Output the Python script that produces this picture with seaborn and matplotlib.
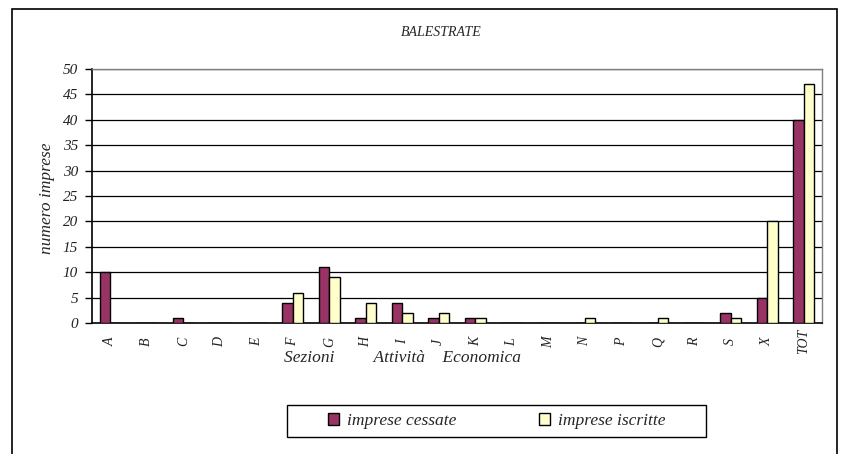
import matplotlib
matplotlib.use("Agg")
import matplotlib.pyplot as plt
import seaborn as sns
import pandas as pd
import numpy as np
from matplotlib.patches import Rectangle

categories = ["A", "B", "C", "D", "E", "F", "G", "H", "I", "J", "K", "L", "M", "N", "P", "Q", "R", "S", "X", "TOT"]
cessate = [10, 0, 1, 0, 0, 4, 11, 1, 4, 1, 1, 0, 0, 0, 0, 0, 0, 2, 5, 40]
iscritte = [0, 0, 0, 0, 0, 6, 9, 4, 2, 2, 1, 0, 0, 1, 0, 1, 0, 1, 20, 47]
series_names = ["imprese cessate", "imprese iscritte"]
yticks = [0, 5, 10, 15, 20, 25, 30, 35, 40, 45, 50]

sns.set_theme(style="white")
plt.rcParams['font.family'] = ['Liberation Serif', 'DejaVu Serif']

df = pd.DataFrame({
    "cat": categories * 2,
    "val": cessate + iscritte,
    "serie": [series_names[0]] * len(categories) + [series_names[1]] * len(categories),
})

W, H = 841, 454
fig = plt.figure(figsize=(8.41, 4.54), dpi=100)
ax = fig.add_axes([92/W, 1-323/H, (822-92)/W, (323-69)/H])

sns.barplot(data=df, x="cat", y="val", hue="serie", order=categories,
            hue_order=series_names, palette=["#993366", "#FFFFCC"],
            width=0.58, edgecolor="black", linewidth=1.0, saturation=1,
            ax=ax, legend=True, zorder=3)

ax.set_ylim(0, 50)
ax.set_xlim(-0.5, len(categories) - 0.5)
ax.set_yticks(yticks)
ax.set_yticklabels([str(v) for v in yticks], fontstyle="italic", fontsize=11, color="#222222")
for y in yticks[1:]:
    ax.axhline(y, color="black", linewidth=0.9, zorder=1)

ax.set_xticks(range(len(categories)))
ax.set_xticklabels(categories, rotation=90, fontstyle="italic", fontsize=10,
                   color="#222222", va="center", ha="center")
ax.set_xticks(np.arange(-0.5, len(categories) + 0.5, 1), minor=True)
ax.tick_params(axis="x", which="major", length=0, pad=13.5)
ax.tick_params(axis="x", which="minor", length=5, width=1, color="black", direction="out")
ax.tick_params(axis="y", which="major", length=5, width=1, color="black", direction="out", left=True, pad=5)

for side in ["left", "bottom"]:
    ax.spines[side].set_color("black")
    ax.spines[side].set_linewidth(1.2)
for side in ["top", "right"]:
    ax.spines[side].set_visible(True)
    ax.spines[side].set_color("#808080")
    ax.spines[side].set_linewidth(1.0)

ax.set_ylabel("numero imprese", fontstyle="italic", fontsize=12.5, va="center", ha="center")
ax.yaxis.set_label_coords((47-92)/730, 0.49)
ax.set_xlabel("Sezioni         Attività    Economica", fontstyle="italic", fontsize=12.5,
              va="center", ha="center")
ax.xaxis.set_label_coords((402.5-92)/730, (323-358)/254)

fig.text(441/W, 1-33/H, "BALESTRATE", ha="center", va="center", fontstyle="italic", fontsize=10)

ax.get_legend().remove()
handles, labels = ax.get_legend_handles_labels()
leg = fig.legend(handles, labels, loc="center left", bbox_to_anchor=(328/W, 1-421/H),
                 ncol=2, frameon=False,
                 prop={"style": "italic", "size": 12.6}, columnspacing=4.72,
                 handlelength=0.63, handleheight=0.63, borderpad=0.0, borderaxespad=0.0,
                 handletextpad=0.45)
fig.patches.append(Rectangle((287/W, 1-437/H), (706-287)/W, (437-405)/H, transform=fig.transFigure,
                             fill=False, edgecolor="black", linewidth=1.0))

fig.patches.append(Rectangle((12/W, -0.1), (837-12)/W, 1.1 - 9/H, transform=fig.transFigure,
                             fill=False, edgecolor="black", linewidth=1.2))

fig.savefig("out.png", dpi=100)
